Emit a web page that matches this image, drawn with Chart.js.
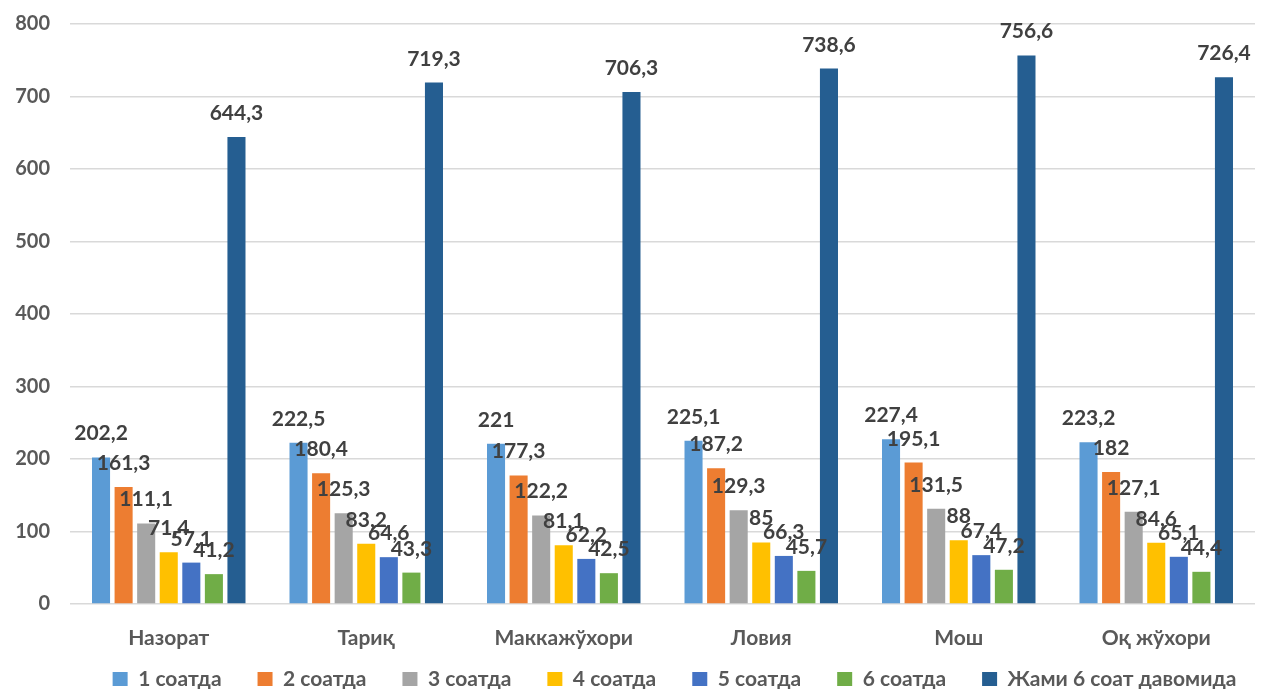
<!DOCTYPE html>
<html>
<head>
<meta charset="utf-8">
<script src="https://cdn.jsdelivr.net/npm/chart.js@4"></script>
<style>
  html, body { margin: 0; padding: 0; background: #ffffff; }
  #wrap { width: 1261px; height: 689px; position: relative; }
</style>
</head>
<body>
<div id="wrap"><canvas id="c" width="1261" height="689"></canvas></div>
<script>
const categories = ['Назорат', 'Тариқ', 'Маккажўхори', 'Ловия', 'Мош', 'Оқ жўхори'];
const seriesNames = ['1 соатда', '2 соатда', '3 соатда', '4 соатда', '5 соатда', '6 соатда', 'Жами 6 соат давомида'];
const hour1 = [202.2, 222.5, 221, 225.1, 227.4, 223.2];
const hour2 = [161.3, 180.4, 177.3, 187.2, 195.1, 182];
const hour3 = [111.1, 125.3, 122.2, 129.3, 131.5, 127.1];
const hour4 = [71.4, 83.2, 81.1, 85, 88, 84.6];
const hour5 = [57.1, 64.6, 62.2, 66.3, 67.4, 65.1];
const hour6 = [41.2, 43.3, 42.5, 45.7, 47.2, 44.4];
const total6 = [644.3, 719.3, 706.3, 738.6, 756.6, 726.4];
const yTicks = [0, 100, 200, 300, 400, 500, 600, 700, 800];

const colors = ['#5B9BD5', '#ED7D31', '#A5A5A5', '#FFC000', '#4472C4', '#70AD47', '#255E91'];
const values = [hour1, hour2, hour3, hour4, hour5, hour6, total6];

const FONT = 'Lato, "Open Sans", sans-serif';
const LEGEND_PAD = 36;
const LEGEND_FONT = 21;

// Value labels above each bar, decimal comma
const valueLabels = {
  id: 'valueLabels',
  afterDatasetsDraw(chart) {
    const ctx = chart.ctx;
    ctx.save();
    ctx.font = 'bold 21px ' + FONT;
    ctx.fillStyle = '#404040';
    ctx.textAlign = 'center';
    ctx.textBaseline = 'alphabetic';
    chart.data.datasets.forEach((ds, i) => {
      const meta = chart.getDatasetMeta(i);
      meta.data.forEach((bar, j) => {
        const txt = String(ds.data[j]).replace('.', ',');
        ctx.fillText(txt, bar.x, bar.y - 17);
      });
    });
    ctx.restore();
  }
};

// Place the legend row: centred a little right of the canvas middle, text midline at y=680
const legendShift = {
  id: 'legendShift',
  afterLayout(chart) {
    const lg = chart.legend;
    if (!lg) return;
    const dx = 47;
    const dy = 681 - (lg.top + LEGEND_PAD + LEGEND_FONT * 1.2 / 2);
    lg.left += dx; lg.right += dx;
    lg.top += dy; lg.bottom += dy;
    (lg.legendHitBoxes || []).forEach(b => { b.left += dx; b.top += dy; });
  }
};

new Chart(document.getElementById('c'), {
  type: 'bar',
  data: {
    labels: categories,
    datasets: seriesNames.map((name, i) => ({
      label: name,
      data: values[i],
      backgroundColor: colors[i],
      borderWidth: 0,
      categoryPercentage: 0.8,
      barPercentage: 0.8
    }))
  },
  options: {
    responsive: false,
    animation: false,
    layout: { padding: { left: 0, right: 6, top: 24, bottom: -35 } },
    plugins: {
      legend: {
        position: 'bottom',
        labels: {
          boxWidth: 15,
          boxHeight: 14,
          padding: LEGEND_PAD,
          color: '#595959',
          font: { family: FONT, size: LEGEND_FONT, weight: 'bold' }
        }
      },
      tooltip: { enabled: false }
    },
    scales: {
      x: {
        afterFit(scale) { scale.height = 53; },
        grid: { display: false, drawTicks: false },
        border: { display: false },
        ticks: {
          color: '#595959',
          padding: 22,
          font: { family: FONT, size: 21, weight: 'bold' }
        }
      },
      y: {
        min: 0,
        max: 800,
        afterFit(scale) { scale.width = 70; scale.paddingTop = 0; scale.paddingBottom = 0; },
        afterBuildTicks(scale) { scale.ticks = yTicks.map(v => ({ value: v })); },
        grid: { color: '#d9d9d9', lineWidth: 1.5, drawTicks: false },
        border: { display: false },
        ticks: {
          color: '#595959',
          padding: 20,
          font: { family: FONT, size: 20, weight: 'bold' }
        }
      }
    }
  },
  plugins: [valueLabels, legendShift]
});
</script>
</body>
</html>
